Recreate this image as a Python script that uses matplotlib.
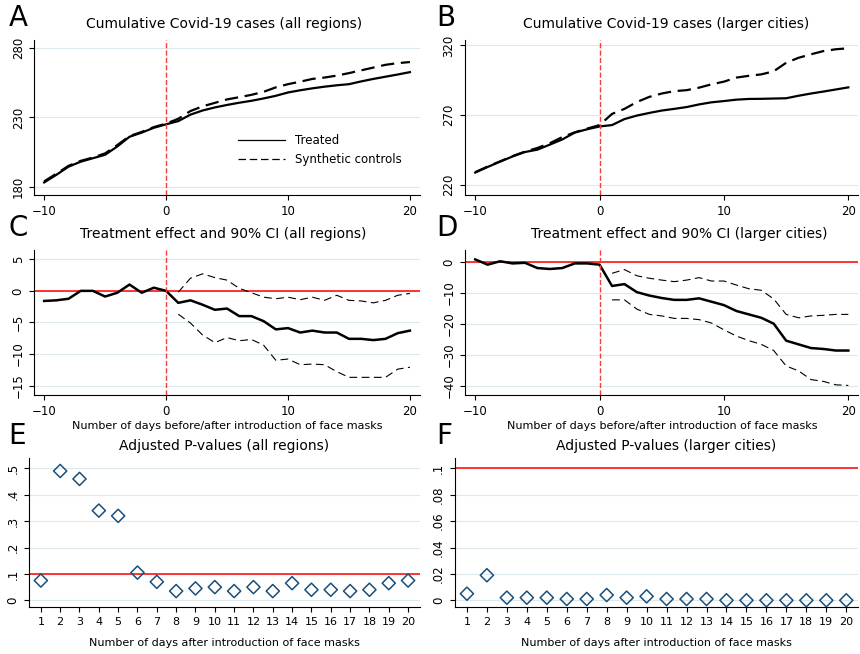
import matplotlib
matplotlib.use("Agg")
import matplotlib.pyplot as plt
import numpy as np

days = list(range(-10, 21))
post = list(range(1, 21))

a_treat = [183,188.5,194.4,198,200.5,203,209,216,219,222.5,225,227.3,232,235,237.2,239,240.6,242,243.7,245.6,248,249.6,251,252.2,253.2,254,256,257.8,259.4,261,262.7]
a_synth = [183.8,189.3,195,198.6,201,204,210,216.5,219.5,223,225.5,229,234.6,238,240.5,243,244.6,246.3,248.5,251.7,254,255.8,257.8,258.8,260.2,262,264,266,268,269.2,270]
b_treat = [229,233,236.8,240.5,243.7,245.4,249,252.7,257.6,260,262,263,267.3,269.8,271.7,273.4,274.6,275.9,277.8,279.3,280.2,281.2,281.7,281.8,282,282.2,284,285.6,287,288.5,290]
b_synth = [229.3,233.3,237,240.8,244,246.6,250,254.4,257.8,260.5,263,271,274.6,279.5,283.2,285.6,287.3,288,289.8,292.2,294.1,297,298.3,299.3,301.5,307.6,311.2,313.7,316,317.3,318]
c_eff = [-1.6,-1.5,-1.25,0,0,-0.9,-0.3,1.0,-0.3,0.5,0,-1.9,-1.5,-2.2,-3.0,-2.8,-4.0,-4.0,-4.8,-6.1,-5.9,-6.6,-6.3,-6.6,-6.6,-7.6,-7.6,-7.8,-7.6,-6.7,-6.3]
c_up = [-0.2,2.0,2.7,2.1,1.7,0.4,-0.3,-1.0,-1.25,-1.0,-1.4,-1.0,-1.5,-0.7,-1.5,-1.6,-1.9,-1.5,-0.7,-0.4]
c_lo = [-3.7,-5.1,-7.0,-8.2,-7.4,-7.9,-7.7,-8.6,-11.0,-10.8,-11.7,-11.6,-11.7,-12.8,-13.7,-13.7,-13.7,-13.7,-12.4,-12.1]
d_eff = [0.9,-0.8,0.3,-0.4,-0.2,-1.9,-2.2,-1.9,-0.4,-0.4,-0.8,-7.7,-7.1,-9.7,-10.8,-11.6,-12.2,-12.2,-11.7,-12.8,-13.9,-15.8,-16.9,-18,-19.9,-25.4,-26.6,-27.8,-28.1,-28.6,-28.6]
d_up = [-3.6,-2.4,-4.4,-5.2,-5.8,-6.3,-5.8,-5.0,-6.1,-6.1,-7.4,-8.6,-9.1,-11.9,-16.9,-18,-17.4,-17.2,-16.9,-16.9]
d_lo = [-12.2,-12.2,-15.2,-16.9,-17.4,-18.2,-18.2,-18.6,-19.7,-21.9,-23.9,-25.4,-26.6,-28.6,-33.6,-35.2,-38,-38.6,-39.7,-39.9]
e_p = [.075,.49,.46,.34,.32,.105,.07,.035,.045,.05,.035,.05,.035,.065,.04,.04,.035,.04,.065,.075]
f_p = [.005,.019,.002,.002,.002,.001,.001,.004,.002,.003,.001,.001,.001,0,0,0,0,0,0,0]

fig = plt.figure(figsize=(8.6,6.54), dpi=100)
pos = {
 'A':[0.040,0.702,0.448,0.237],'B':[0.541,0.702,0.457,0.237],
 'C':[0.040,0.396,0.448,0.222],'D':[0.541,0.396,0.457,0.222],
 'E':[0.034,0.072,0.454,0.228],'F':[0.529,0.072,0.469,0.228]}
axes={}
for k,p in pos.items():
    ax=fig.add_axes(p)
    ax.spines['top'].set_visible(False); ax.spines['right'].set_visible(False)
    ax.yaxis.grid(True,color='#dde8ec',lw=0.8); ax.set_axisbelow(True)
    ax.tick_params(labelsize=8.5)
    axes[k]=ax

def style_y(ax):
    plt.setp(ax.get_yticklabels(), rotation=90, va='center')

def top(ax, letter, title, lx, tx, d=0.014):
    bb=ax.get_position()
    fig.text(lx, bb.y1+0.012, letter, fontsize=20, va='bottom', ha='left')
    fig.text(tx, bb.y1+d, title, fontsize=10, va='bottom', ha='center')

for k,t,s,yt,yl in [('A',a_treat,a_synth,[180,230,280],(174,286)),('B',b_treat,b_synth,[220,270,320],(213,324))]:
    ax=axes[k]
    ax.plot(days,t,'k-',lw=1.6,label='Treated')
    ax.plot(days,s,'k',ls=(0,(6,3)),lw=1.6,label='Synthetic controls')
    ax.axvline(0,color='#f04040',ls='--',lw=1)
    ax.set_ylim(*yl); ax.set_yticks(yt); ax.set_xlim(-10.8,20.8); ax.set_xticks([-10,0,10,20])
    style_y(ax)
leg=axes['A'].legend(loc='lower right',bbox_to_anchor=(0.98,0.12),frameon=False,fontsize=8.5,handlelength=4)
for line in leg.get_lines(): line.set_linewidth(0.9)

for k,e,u,l,yt,yl in [('C',c_eff,c_up,c_lo,[5,0,-5,-10,-15],(-16.5,6.5)),('D',d_eff,d_up,d_lo,[0,-10,-20,-30,-40],(-43,4))]:
    ax=axes[k]
    ax.axhline(0,color='red',lw=1.1)
    ax.plot(days,e,'k-',lw=1.8)
    ax.plot(post,u,'k',ls=(0,(7,4)),lw=0.8)
    ax.plot(post,l,'k',ls=(0,(7,4)),lw=0.8)
    ax.axvline(0,color='#f04040',ls='--',lw=1)
    ax.set_ylim(*yl); ax.set_yticks(yt); ax.set_xlim(-10.8,20.8); ax.set_xticks([-10,0,10,20])
    ax.set_xlabel('Number of days before/after introduction of face masks',fontsize=8,labelpad=2)
    style_y(ax)

for k,p,yt,ytl,yl in [('E',e_p,[0,.1,.2,.3,.4,.5],['0','.1','.2','.3','.4','.5'],(-0.025,0.54)),
                      ('F',f_p,[0,.02,.04,.06,.08,.1],['0','.02','.04','.06','.08','.1'],(-0.005,0.108))]:
    ax=axes[k]
    ax.axhline(0.1,color='red',lw=1.1)
    ax.scatter(post,p,marker='D',s=45,facecolors='none',edgecolors='#1a4f7a',lw=1.1,zorder=3)
    ax.set_ylim(*yl); ax.set_yticks(yt); ax.set_yticklabels(ytl); ax.set_xlim(0.4,20.6); ax.set_xticks(post)
    ax.set_xlabel('Number of days after introduction of face masks',fontsize=8,labelpad=8)
    ax.tick_params(axis='x',labelsize=8)
    style_y(ax)

top(axes['A'],'A','Cumulative Covid-19 cases (all regions)',0.01,0.26)
top(axes['B'],'B','Cumulative Covid-19 cases (larger cities)',0.507,0.775)
top(axes['C'],'C','Treatment effect and 90% CI (all regions)',0.01,0.26)
top(axes['D'],'D','Treatment effect and 90% CI (larger cities)',0.507,0.79)
top(axes['E'],'E','Adjusted P-values (all regions)',0.01,0.26,0.008)
top(axes['F'],'F','Adjusted P-values (larger cities)',0.507,0.775,0.008)

fig.savefig('out.png',dpi=100)
